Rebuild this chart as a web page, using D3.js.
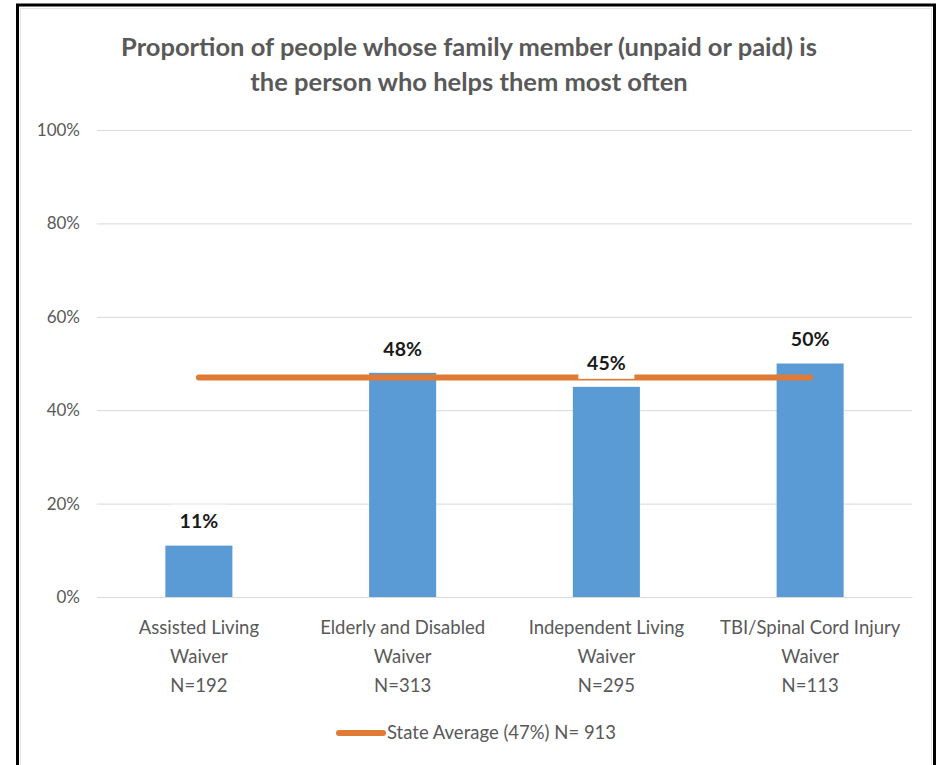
<!DOCTYPE html>
<html>
<head>
<meta charset="utf-8">
<script src="https://cdn.jsdelivr.net/npm/d3@7"></script>
<style>
  html, body { margin: 0; padding: 0; background: #fff; }
  svg { display: block; }
</style>
</head>
<body>
<svg id="chart" width="941" height="765"></svg>
<script>
// Chart data
const titleLines = ["Proportion of people whose family member (unpaid or paid) is",
                    "the person who helps them most often"];
const categories = ["Assisted Living|Waiver|N=192",
                    "Elderly and Disabled|Waiver|N=313",
                    "Independent Living|Waiver|N=295",
                    "TBI/Spinal Cord Injury|Waiver|N=113"];
const values = [0.11, 0.48, 0.45, 0.50];
const stateAverage = 0.47;
const legendLabel = "State Average (47%) N= 913";
const yTicks = [0, 0.2, 0.4, 0.6, 0.8, 1.0];

const svg = d3.select("#chart");
const font = "Lato, 'Open Sans', sans-serif";

// Chart frame
svg.append("rect")
  .attr("x", 17.5).attr("y", 5).attr("width", 917).attr("height", 790)
  .attr("fill", "#fff").attr("stroke", "#000").attr("stroke-width", 3);
svg.append("rect")
  .attr("x", 20.5).attr("y", 8.5).attr("width", 911).attr("height", 790)
  .attr("fill", "none").attr("stroke", "#e4e4e4").attr("stroke-width", 1);

// Scales
const x = d3.scaleBand()
  .domain(categories)
  .range([97, 912])
  .paddingInner(0.671)
  .paddingOuter(0.3355);
const y = d3.scaleLinear().domain([0, 1]).range([597, 130]);

// Title
svg.append("g").selectAll("text")
  .data(titleLines)
  .join("text")
  .attr("x", 469)
  .attr("y", (d, i) => 56 + i * 35)
  .attr("text-anchor", "middle")
  .attr("font-family", font)
  .attr("font-weight", 700)
  .attr("font-size", 25.5)
  .attr("fill", "#595959")
  .text(d => d);

// Gridlines and y axis labels
const yAxis = d3.axisLeft(y)
  .tickValues(yTicks)
  .tickFormat(d3.format(".0%"))
  .tickSize(-(912 - 97))
  .tickPadding(17);
const gy = svg.append("g")
  .attr("transform", "translate(97,0)")
  .call(yAxis);
gy.select(".domain").remove();
gy.selectAll(".tick line").attr("stroke", "#d9d9d9").attr("stroke-width", 1);
gy.selectAll(".tick text")
  .attr("font-family", font)
  .attr("font-size", 17)
  .attr("fill", "#595959");

// Bars
svg.append("g").selectAll("rect")
  .data(values)
  .join("rect")
  .attr("x", (d, i) => x(categories[i]))
  .attr("y", d => y(d))
  .attr("width", x.bandwidth())
  .attr("height", d => y(0) - y(d))
  .attr("fill", "#5b9bd5");

// State average line across category centres
const centers = categories.map(c => x(c) + x.bandwidth() / 2);
svg.append("line")
  .attr("x1", centers[0]).attr("x2", centers[centers.length - 1])
  .attr("y1", y(stateAverage)).attr("y2", y(stateAverage))
  .attr("stroke", "#e07b37")
  .attr("stroke-width", 6)
  .attr("stroke-linecap", "round");

// Data labels with white boxes
const labels = svg.append("g").selectAll("g")
  .data(values)
  .join("g")
  .attr("transform", (d, i) => `translate(${centers[i]},${y(d) - 24})`);
labels.append("rect")
  .attr("x", -28).attr("y", -17)
  .attr("width", 56).attr("height", 33)
  .attr("fill", "#fff");
labels.append("text")
  .attr("text-anchor", "middle")
  .attr("dy", "0.35em")
  .attr("font-family", font)
  .attr("font-weight", 700)
  .attr("font-size", 19.5)
  .attr("fill", "#1a1a1a")
  .text(d => d3.format(".0%")(d));

// Category labels
const xAxis = d3.axisBottom(x).tickSize(0).tickFormat("");
const gx = svg.append("g")
  .attr("transform", `translate(0,${y(0)})`)
  .call(xAxis);
gx.select(".domain").attr("stroke", "#d9d9d9");
gx.selectAll(".tick").each(function(d) {
  const parts = d.split("|");
  d3.select(this).selectAll("text.lbl")
    .data(parts)
    .join("text")
    .attr("class", "lbl")
    .attr("x", 0)
    .attr("y", (p, i) => 37 + i * 29)
    .attr("text-anchor", "middle")
    .attr("font-family", font)
    .attr("font-size", 18.5)
    .attr("fill", "#595959")
    .text(p => p);
});

// Legend
const legend = svg.append("g").attr("transform", "translate(0,733)");
legend.append("line")
  .attr("x1", 339).attr("x2", 383)
  .attr("y1", 0).attr("y2", 0)
  .attr("stroke", "#e07b37")
  .attr("stroke-width", 6)
  .attr("stroke-linecap", "round");
legend.append("text")
  .attr("x", 387).attr("y", 6)
  .attr("font-family", font)
  .attr("font-size", 18.5)
  .attr("fill", "#595959")
  .text(legendLabel);
</script>
</body>
</html>
